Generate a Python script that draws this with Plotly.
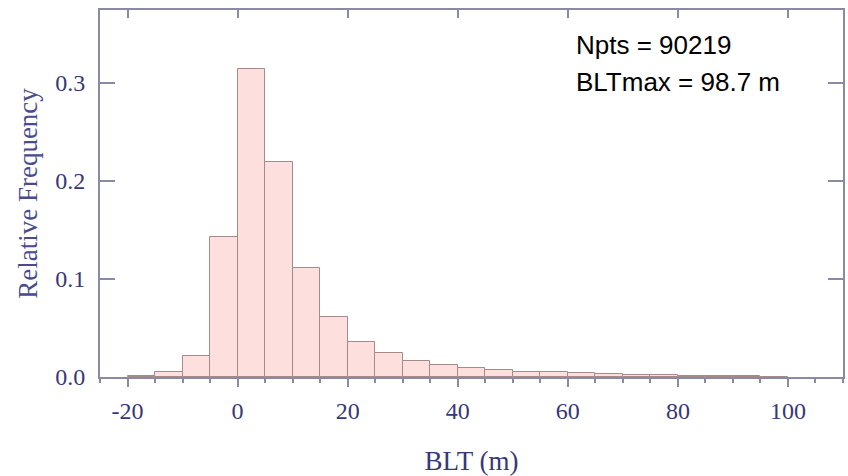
import plotly.graph_objects as go

# Histogram data (relative frequency per 5 m bin)
bin_left = [-20, -15, -10, -5, 0, 5, 10, 15, 20, 25, 30, 35, 40, 45,
            50, 55, 60, 65, 70, 75, 80, 85, 90, 95]
rel_freq = [0.0013, 0.0047, 0.0214, 0.143, 0.314, 0.219, 0.111, 0.0615,
            0.036, 0.0248, 0.0163, 0.0122, 0.0093, 0.0071, 0.0054, 0.0050,
            0.0038, 0.0028, 0.0020, 0.0017, 0.0013, 0.0010, 0.0007, 0.0005]
bin_width = 5

x_tick_vals = [-20, 0, 20, 40, 60, 80, 100]
x_tick_text = ["-20", "0", "20", "40", "60", "80", "100"]
y_tick_vals = [0.0, 0.1, 0.2, 0.3]

n_pts = 90219
blt_max = 98.7

axis_col = "#8a8aa6"
label_col = "#37377a"
serif = "Liberation Serif, Times New Roman, serif"
sans = "Liberation Sans, Arial, sans-serif"

fig = go.Figure()
fig.add_trace(go.Bar(
    x=bin_left, y=rel_freq, width=bin_width, offset=0,
    marker=dict(color="#fde0dd", line=dict(color="#a48a8a", width=1)),
    showlegend=False, hoverinfo="skip",
))
# invisible trace to anchor the top tick axis
fig.add_trace(go.Scatter(x=[bin_left[0]], y=[0], xaxis="x2", mode="markers",
                         marker=dict(opacity=0), showlegend=False, hoverinfo="skip"))

fig.update_layout(
    width=848, height=476,
    margin=dict(l=100, r=3, t=10, b=99),
    plot_bgcolor="white", paper_bgcolor="white",
    bargap=0,
    xaxis=dict(
        range=[-25, 110], tickvals=x_tick_vals, ticktext=x_tick_text,
        ticks="outside", ticklen=8, tickcolor=axis_col, tickwidth=1.5,
        minor=dict(dtick=5, tick0=0, ticks="outside", ticklen=4, tickcolor=axis_col),
        showline=True, linecolor=axis_col, linewidth=2, mirror=True,
        showgrid=False, zeroline=False, ticklabelstandoff=3,
        tickfont=dict(family=serif, size=24, color=label_col),
        title=dict(text="BLT (m)", font=dict(family=serif, size=27, color=label_col), standoff=28),
    ),
    xaxis2=dict(
        range=[-25, 110], overlaying="x", side="top", anchor="y",
        tickvals=x_tick_vals, showticklabels=False,
        ticks="inside", ticklen=8, tickcolor=axis_col, tickwidth=1.5,
        showline=False, showgrid=False, zeroline=False,
    ),
    yaxis=dict(
        range=[0, 0.3745], tickvals=y_tick_vals, tickformat=".1f",
        ticks="inside", ticklen=15, tickcolor=axis_col, tickwidth=1.5,
        showline=True, linecolor=axis_col, linewidth=2, mirror="ticks",
        showgrid=False, zeroline=False, ticklabelstandoff=8,
        tickfont=dict(family=serif, size=24, color=label_col),
        title=dict(text="Relative Frequency", font=dict(family=serif, size=27, color="#4a4a8e"), standoff=10),
    ),
    annotations=[
        dict(text=f"Npts = {n_pts}",
             xref="paper", yref="paper", x=0.6376, y=0.9046,
             xanchor="left", yanchor="middle", align="left", showarrow=False,
             font=dict(family=sans, size=26, color="black")),
        dict(text=f"BLTmax = {blt_max} m",
             xref="paper", yref="paper", x=0.6376, y=0.8038,
             xanchor="left", yanchor="middle", align="left", showarrow=False,
             font=dict(family=sans, size=26, color="black")),
    ],
)

fig.write_html("out.html")
